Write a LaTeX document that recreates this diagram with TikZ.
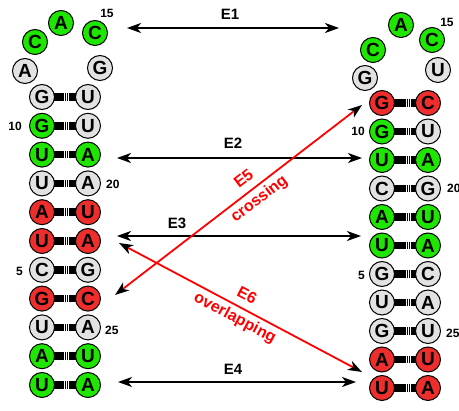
\documentclass[tikz,border=0pt]{standalone}
\usepackage{fontspec}
\setmainfont{Liberation Sans}
\usetikzlibrary{arrows.meta,backgrounds}
\definecolor{ntgreen}{RGB}{30,230,0}
\definecolor{ntred}{RGB}{238,45,45}
\definecolor{ntgray}{RGB}{226,226,226}
\begin{document}
\begin{tikzpicture}[x=1pt,y=-1pt,
  nt/.style={circle,draw=black,line width=1pt,minimum size=25pt,inner sep=0pt,font=\fontsize{19}{19}\selectfont\bfseries},
  gn/.style={nt,fill=ntgreen},
  rd/.style={nt,fill=ntred},
  gy/.style={nt,fill=ntgray},
  bond/.style={line width=7.5pt,dash pattern=on 1.6pt off 0.3pt,black},
  num/.style={font=\fontsize{12}{12}\selectfont\bfseries,inner sep=0pt},
  conn/.style={line width=1.8pt,black,{Stealth[length=14pt,width=10pt,inset=4pt]}-{Stealth[length=14pt,width=10pt,inset=4pt]}},
  rconn/.style={line width=1.8pt,red,{Stealth[length=14pt,width=10pt,inset=4pt,color=black]}-{Stealth[length=14pt,width=10pt,inset=4pt,color=black]}},
  elab/.style={font=\fontsize{15}{15}\selectfont\bfseries},
  rlab/.style={font=\fontsize{16}{25}\selectfont\bfseries,text=red,align=center,sloped}]
\useasboundingbox (0,0) rectangle (459,411);

% left loop
\node[gy] (la1) at (25,71) {A};
\node[gn] (lc1) at (35,42) {C};
\node[gn] (la2) at (61,23) {A};
\node[gn] (lc2) at (95,33) {C};
\node[gy] (lg1) at (100,68) {G};
% left stem
\foreach \i/\a/\ca/\b/\cb in {0/G/gy/U/gy,1/G/gn/U/gy,2/U/gn/A/gn,3/U/gy/A/gy,4/A/rd/U/rd,5/U/rd/A/rd,6/C/gy/G/gy,7/G/rd/C/rd,8/U/gy/A/gy,9/A/gn/U/gn,10/U/gn/A/gn}{
  \node[\ca] (l\i a) at (42,97+28.8*\i) {\a};
  \node[\cb] (l\i b) at (88,97+28.8*\i) {\b};
  \begin{pgfonlayer}{background}
    \draw[bond] (l\i a.center) -- (l\i b.center);
  \end{pgfonlayer}
}
% right loop
\node[gy] (rg1) at (365,78) {G};
\node[gn] (rc1) at (373,50) {C};
\node[gn] (ra1) at (401,25) {A};
\node[gn] (rc2) at (432,40) {C};
\node[gy] (ru1) at (438,70) {U};
% right stem
\foreach \i/\a/\ca/\b/\cb in {0/G/rd/C/rd,1/G/gn/U/gy,2/U/gn/A/gn,3/C/gy/G/gy,4/A/gn/U/gn,5/U/gn/A/gn,6/G/gy/C/gy,7/U/gy/A/gy,8/G/gy/U/gy,9/A/rd/U/rd,10/U/rd/A/rd}{
  \node[\ca] (r\i a) at (382,103+28.5*\i) {\a};
  \node[\cb] (r\i b) at (428,103+28.5*\i) {\b};
  \begin{pgfonlayer}{background}
    \draw[bond] (r\i a.center) -- (r\i b.center);
  \end{pgfonlayer}
}
% numbers
\node[num] (n15l) at (107,13) {15};
\node[num,anchor=east] (n10l) at (22,126) {10};
\node[num,anchor=west] (n20l) at (106,184) {20};
\node[num,anchor=east] (n5l) at (23,271) {5};
\node[num,anchor=west] (n25l) at (105,330) {25};
\node[num] (n15r) at (447,22) {15};
\node[num,anchor=east] (n10r) at (365,131) {10};
\node[num,anchor=west] (n20r) at (447,188) {20};
\node[num,anchor=east] (n5r) at (365,275) {5};
\node[num,anchor=west] (n25r) at (446,333) {25};

% connector ends
\coordinate (e1a) at (127,28);  \coordinate (e1b) at (339,28);
\coordinate (e2a) at (117,158); \coordinate (e2b) at (362,158);
\coordinate (e3a) at (117,236); \coordinate (e3b) at (361,236);
\coordinate (e4a) at (118,382); \coordinate (e4b) at (356,382);
\coordinate (e5a) at (115,295); \coordinate (e5b) at (362,105);
\coordinate (e6a) at (119,243); \coordinate (e6b) at (362,372);

\draw[conn] (e1a) -- (e1b);
\draw[conn] (e2a) -- (e2b);
\draw[conn] (e3a) -- (e3b);
\draw[conn] (e4a) -- (e4b);
\node[elab] (l1) at (230,14) {E1};
\node[elab] (l2) at (233,143) {E2};
\node[elab] (l3) at (177,223) {E3};
\node[elab] (l4) at (233,369) {E4};

\draw[rconn] (e5a) -- node[rlab,pos=0.555] (l5) {E5\\crossing} (e5b);
\draw[rconn] (e6a) -- node[rlab,pos=0.5] (l6) {E6\\overlapping} (e6b);
\end{tikzpicture}
\end{document}
